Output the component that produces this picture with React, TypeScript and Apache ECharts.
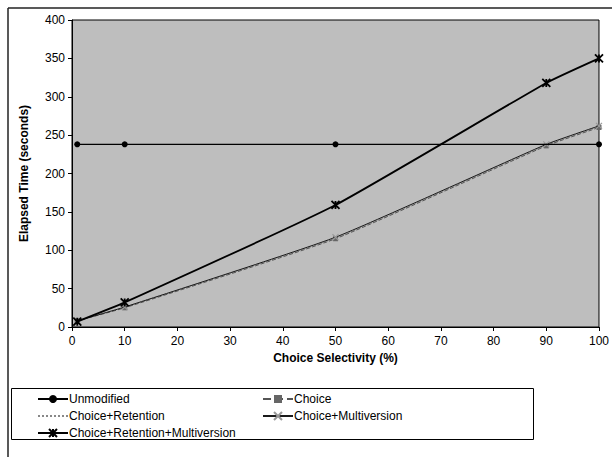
import React, { useEffect, useRef } from "react";
import * as echarts from "echarts";

const xTicks = [0, 10, 20, 30, 40, 50, 60, 70, 80, 90, 100];
const unmodifiedX = [1, 10, 50, 100];
const unmodifiedY = [238, 238, 238, 238];
const choiceX = [1, 10, 50, 90, 100];
const choiceY = [8, 25, 115, 236, 260];
const retentionX = [1, 10, 50, 90, 100];
const retentionY = [8, 26, 116, 237, 261];
const multiversionX = [1, 10, 50, 90, 100];
const multiversionY = [8, 26, 117, 238, 262];
const allX = [1, 10, 50, 90, 100];
const allY = [7, 32, 159, 318, 350];

const pair = (xs: number[], ys: number[]) => xs.map((x, i) => [x, ys[i]]);

const FONT = "Liberation Sans";
const starPath = "path://M0,0L10,10M10,0L0,10M5,0L5,10";
const xPath = "path://M0,0L10,10M10,0L0,10";

export default function App() {
  const ref = useRef<HTMLDivElement>(null);
  useEffect(() => {
    if (!ref.current) return;
    const chart = echarts.init(ref.current, undefined, { renderer: "svg" });
    const legendText = { fontFamily: FONT, fontSize: 12, color: "#000", padding: [0, 0, 0, -4] };
    chart.setOption({
      animation: false,
      backgroundColor: "#ffffff",
      textStyle: { fontFamily: FONT },
      grid: {
        left: 72,
        right: 11,
        top: 20,
        bottom: 130,
        show: true,
        backgroundColor: "#bebebe",
        borderColor: "#000",
        borderWidth: 1,
      },
      xAxis: {
        type: "value",
        min: 0,
        max: 100,
        interval: 10,
        name: "Choice Selectivity (%)",
        nameLocation: "middle",
        nameGap: 22,
        nameTextStyle: { fontFamily: FONT, fontWeight: "bold", fontSize: 12, color: "#000" },
        axisLine: { show: true, onZero: false, lineStyle: { color: "#000", width: 1 } },
        axisTick: { show: true, inside: false, length: 4, lineStyle: { color: "#000" } },
        axisLabel: {
          color: "#000",
          fontSize: 12,
          fontFamily: FONT,
          margin: 8,
          formatter: (v: number) => (xTicks.includes(v) ? String(v) : ""),
        },
        splitLine: { show: false },
      },
      yAxis: {
        type: "value",
        min: 0,
        max: 400,
        interval: 50,
        name: "Elapsed Time (seconds)",
        nameLocation: "middle",
        nameGap: 42,
        nameTextStyle: { fontFamily: FONT, fontWeight: "bold", fontSize: 12, color: "#000" },
        axisLine: { show: true, lineStyle: { color: "#000", width: 1 } },
        axisTick: { show: true, inside: false, length: 4, lineStyle: { color: "#000" } },
        axisLabel: { color: "#000", fontSize: 12, fontFamily: FONT, margin: 7 },
        splitLine: { show: false },
      },
      legend: [
        {
          left: 32,
          top: 388,
          orient: "vertical",
          itemGap: 5,
          itemWidth: 30,
          itemHeight: 10,
          textStyle: legendText,
          data: [
            "Unmodified",
            { name: "Choice+Retention", itemStyle: { opacity: 0 } },
            "Choice+Retention+Multiversion",
          ],
        },
        {
          left: 257,
          top: 388,
          orient: "vertical",
          itemGap: 5,
          itemWidth: 30,
          itemHeight: 10,
          textStyle: legendText,
          data: ["Choice", "Choice+Multiversion"],
        },
      ],
      graphic: [
        {
          type: "rect",
          shape: { x: 11.5, y: 388.5, width: 522, height: 51 },
          style: { fill: "none", stroke: "#000", lineWidth: 1 },
          silent: true,
        },
        {
          type: "line",
          shape: { x1: 8, y1: 8, x2: 612, y2: 8 },
          style: { stroke: "#222", lineWidth: 1.5 },
          silent: true,
        },
        {
          type: "line",
          shape: { x1: 8, y1: 8, x2: 8, y2: 457 },
          style: { stroke: "#222", lineWidth: 1.5 },
          silent: true,
        },
      ],
      series: [
        {
          name: "Unmodified",
          type: "line",
          data: pair(unmodifiedX, unmodifiedY),
          symbol: "circle",
          symbolSize: 6,
          lineStyle: { color: "#000", width: 1.2 },
          itemStyle: { color: "#000" },
          z: 5,
        },
        {
          name: "Choice",
          type: "line",
          data: pair(choiceX, choiceY),
          smooth: 0.15,
          symbol: "rect",
          symbolSize: 5,
          lineStyle: { color: "#555", width: 1, type: "dashed" },
          itemStyle: { color: "#666" },
          z: 3,
        },
        {
          name: "Choice+Retention",
          type: "line",
          data: pair(retentionX, retentionY),
          smooth: 0.15,
          symbol: "none",
          lineStyle: { color: "#888", width: 1, type: "dotted" },
          itemStyle: { color: "#888" },
          z: 2,
        },
        {
          name: "Choice+Multiversion",
          type: "line",
          data: pair(multiversionX, multiversionY),
          smooth: 0.15,
          symbol: xPath,
          symbolSize: 6,
          lineStyle: { color: "#1a1a1a", width: 1 },
          itemStyle: { color: "#999", borderColor: "#999", borderWidth: 1.2 },
          z: 4,
        },
        {
          name: "Choice+Retention+Multiversion",
          type: "line",
          data: pair(allX, allY),
          smooth: 0.15,
          symbol: starPath,
          symbolSize: 8,
          lineStyle: { color: "#000", width: 1.8 },
          itemStyle: { color: "#000", borderColor: "#000", borderWidth: 1.8 },
          z: 6,
        },
      ],
    });
    return () => chart.dispose();
  }, []);
  return (
    <div
      ref={ref}
      style={{ position: "absolute", left: 0, top: 0, width: 612, height: 457 }}
    />
  );
}
